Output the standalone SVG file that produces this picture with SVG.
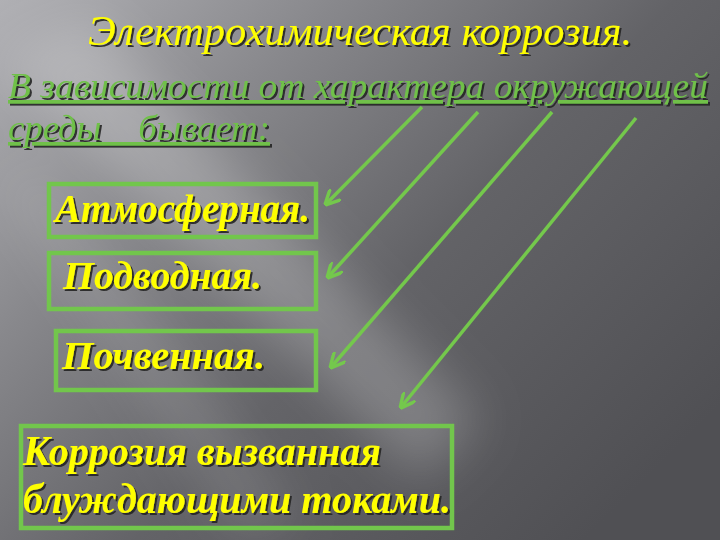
<svg xmlns="http://www.w3.org/2000/svg" width="720" height="540" viewBox="0 0 720 540">
<defs>
<linearGradient id="bg" x1="0" y1="0" x2="1" y2="0.75">
<stop offset="0" stop-color="#b0b0b4"/>
<stop offset="0.3" stop-color="#88888c"/>
<stop offset="0.6" stop-color="#636367"/>
<stop offset="1" stop-color="#505054"/>
</linearGradient>
<filter id="blur" x="-20%" y="-20%" width="140%" height="140%">
<feGaussianBlur stdDeviation="25"/>
</filter>
<filter id="sh" x="-5%" y="-20%" width="110%" height="140%">
<feDropShadow dx="2" dy="2" stdDeviation="0.6" flood-color="#222" flood-opacity="0.9"/>
</filter>
<marker id="ah" viewBox="0 0 10 10" refX="8" refY="5" markerWidth="4.5" markerHeight="4.5" orient="auto" markerUnits="strokeWidth">
<path d="M0,0 L10,5 L0,10" fill="none" stroke="#74c84c" stroke-width="2.2"/>
</marker>
<style>
.box{fill:none;stroke:#72c64c;stroke-width:4.5}
.arr{stroke:#74c84c;stroke-width:3.5;fill:none;marker-end:url(#ah)}
text{font-family:'Liberation Serif','DejaVu Serif',serif;font-style:italic}
</style>
</defs>
<rect width="720" height="540" fill="url(#bg)"/>
<g filter="url(#blur)" fill="#ffffff">
<polygon points="0,60 90,20 480,420 420,480" opacity="0.22"/>
<polygon points="0,180 40,170 300,520 240,540" opacity="0.12"/>
</g>
<text x="360" y="45" font-size="42" fill="#ffff00" filter="url(#sh)" text-anchor="middle" textLength="544" lengthAdjust="spacingAndGlyphs">Электрохимическая коррозия.</text>
<g fill="#6fc04a" font-size="36" text-decoration="underline" filter="url(#sh)">
<text x="8" y="98" textLength="700" lengthAdjust="spacingAndGlyphs">В зависимости от характера окружающей</text>
<text x="8" y="140" xml:space="preserve" textLength="262" lengthAdjust="spacingAndGlyphs">среды    бывает:</text>
</g>
<g id="connectors">
<line class="arr" x1="422" y1="107" x2="327" y2="203"/>
<line class="arr" x1="478" y1="112" x2="329" y2="276"/>
<line class="arr" x1="552" y1="112" x2="332" y2="366"/>
<line class="arr" x1="636" y1="118" x2="402" y2="406"/>
</g>
<g id="n1">
<rect class="box" x="49" y="184" width="267" height="53"/>
<text x="55" y="222" font-weight="bold" font-size="40" fill="#ffff00" filter="url(#sh)" textLength="255" lengthAdjust="spacingAndGlyphs">Атмосферная.</text>
</g>
<g id="n2">
<rect class="box" x="49" y="253" width="267" height="56"/>
<text x="63" y="289" font-weight="bold" font-size="40" fill="#ffff00" filter="url(#sh)" textLength="199" lengthAdjust="spacingAndGlyphs">Подводная.</text>
</g>
<g id="n3">
<rect class="box" x="56" y="331" width="260" height="59"/>
<text x="62" y="369" font-weight="bold" font-size="40" fill="#ffff00" filter="url(#sh)" textLength="203" lengthAdjust="spacingAndGlyphs">Почвенная.</text>
</g>
<g id="n4">
<rect class="box" x="21" y="426" width="431" height="102"/>
<text x="23" y="465" font-weight="bold" font-size="42" fill="#ffff00" filter="url(#sh)" textLength="358" lengthAdjust="spacingAndGlyphs">Коррозия вызванная</text>
<text x="23" y="513" font-weight="bold" font-size="42" fill="#ffff00" filter="url(#sh)" textLength="428" lengthAdjust="spacingAndGlyphs">блуждающими токами.</text>
</g>
</svg>
